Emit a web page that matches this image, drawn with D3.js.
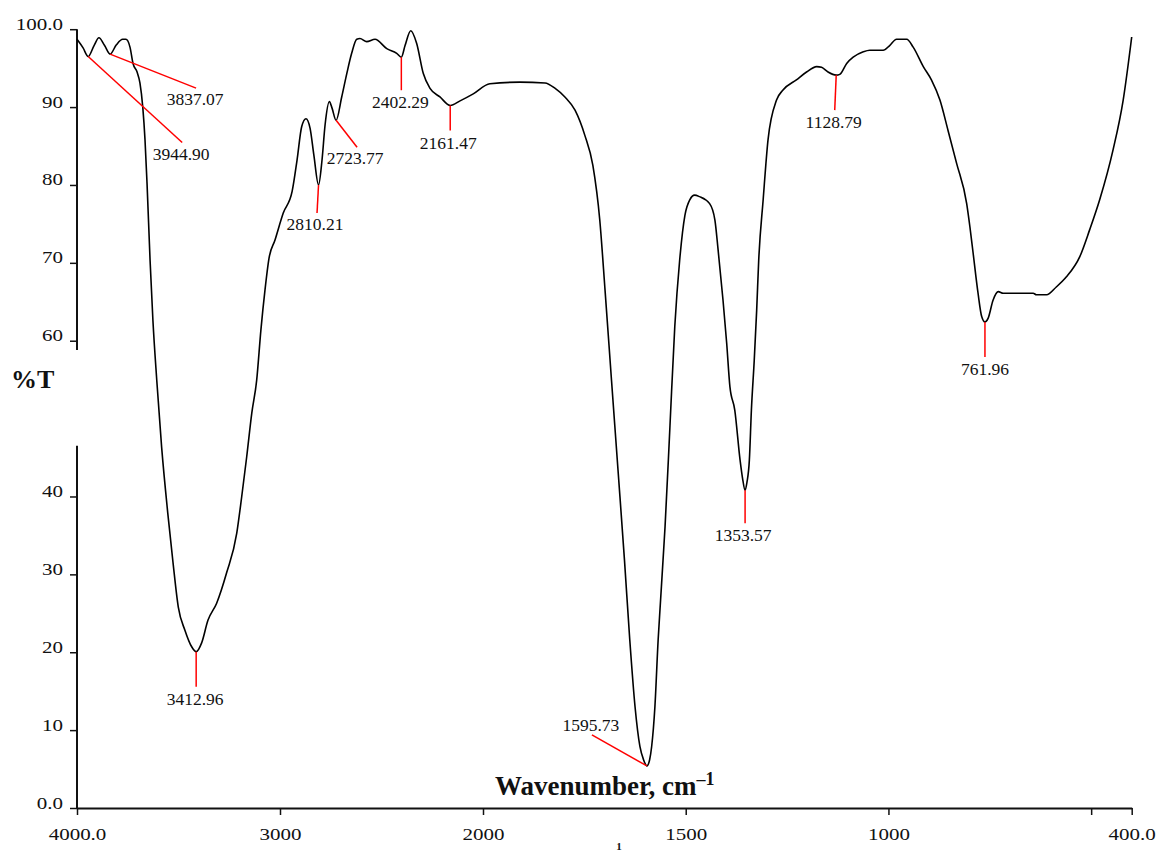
<!DOCTYPE html>
<html>
<head>
<meta charset="utf-8">
<script src="https://cdn.jsdelivr.net/npm/d3@7"></script>
<style>
  html, body { margin: 0; padding: 0; background: #fff; }
  svg text { font-family: "Liberation Serif", "Times New Roman", serif; fill: #111; }
</style>
</head>
<body>
<svg id="chart" width="1157" height="854"></svg>
<script>
// spektrum - vlnocet (cm-1) a propustnost (%T)
const wavenumber = [
  4000, 3970, 3944.9, 3916, 3892, 3864, 3837.07, 3806, 3775, 3759, 3739, 3724, 3704, 3690, 3676, 3665, 3655,
  3640, 3626, 3607, 3583, 3553, 3527, 3501, 3468, 3435, 3412.96, 3386, 3355, 3312, 3263, 3213, 3189, 3164,
  3139, 3115, 3094, 3074, 3054, 3025, 2984, 2940, 2916, 2893, 2872, 2852, 2833, 2810.21, 2793, 2778, 2757,
  2744, 2723.77, 2696, 2671, 2647, 2622, 2606, 2573, 2532, 2474, 2425, 2402.29, 2384, 2356, 2327, 2294,
  2261, 2212, 2161.47, 2113, 2048, 1983, 1909, 1847, 1822, 1798, 1773, 1749, 1729, 1712, 1699, 1683, 1667,
  1651, 1638, 1625, 1613, 1604, 1595.73, 1589, 1584, 1576, 1568, 1562, 1556, 1551, 1539, 1527, 1515,
  1502, 1490, 1478, 1466, 1441, 1428, 1420, 1408, 1399, 1391, 1379, 1366, 1360, 1353.57, 1349, 1343, 1338,
  1331, 1325, 1320, 1309, 1297, 1276, 1260, 1227, 1202, 1177, 1165, 1149, 1128.79, 1120, 1103, 1087, 1062,
  1046, 1013, 997, 980, 955, 939, 914, 894, 873, 853, 832, 807, 799, 791, 779, 770, 761.96, 754, 742, 729,
  717, 643, 635, 610, 586, 561, 528, 504, 479, 446, 421, 400
];
const transmittance = [
  98.7, 97.6, 96.5, 97.9, 98.9, 97.9, 96.8, 98.0, 98.7, 98.7, 97.7, 95.6, 94.5, 93.1, 90.0, 85.8, 80.2,
  70.3, 62.6, 54.9, 46.3, 37.9, 31.5, 25.8, 22.8, 20.7, 20.06, 21.2, 24.1, 26.3, 30.2, 35.3, 39.9, 45.1,
  50.7, 54.9, 61.4, 66.5, 70.6, 72.9, 76.4, 79.2, 83.2, 87.5, 88.5, 87.3, 83.8, 80.0, 83.2, 87.7, 90.7,
  89.9, 88.3, 91.3, 94.3, 96.9, 98.7, 98.8, 98.4, 98.7, 97.5, 96.9, 96.4, 97.9, 99.8, 98.2, 94.3,
  92.4, 91.3, 90.2, 90.8, 91.7, 93.0, 93.2, 93.1, 92.4, 91.3, 89.6, 86.4, 82.5, 75.5, 66.5, 54.9, 43.4,
  31.8, 21.6, 13.0, 7.9, 6.2, 5.4, 6.2, 7.9, 13.0, 21.6, 26.7, 31.8, 36.1, 48.9, 61.8, 70.3,
  76.1, 78.1, 78.7, 78.5, 77.6, 75.5, 71.6, 65.2, 59.7, 54.1, 51.1, 44.7, 42.4, 40.8, 41.8, 44.7, 51.1,
  57.5, 63.9, 70.3, 78.1, 85.8, 90.9, 92.2, 93.5, 94.5, 95.2, 95.1, 94.5, 94.1, 94.2, 95.6, 96.4, 97.1,
  97.3, 97.3, 97.9, 98.7, 98.7, 97.7, 95.2, 93.5, 90.9, 87.0, 82.8, 77.6, 74.6, 71.2, 66.1, 63.1, 62.4, 62.9, 65.2, 66.3,
  66.1, 66.1, 65.9, 65.9, 66.9, 68.2, 70.8, 74.2, 78.1, 84.5, 90.9, 99.0
];

// popisky piku
const peakWn = [3944.90, 3837.07, 3412.96, 2810.21, 2723.77, 2402.29, 2161.47, 1595.73, 1353.57, 1128.79, 761.96];
const peakT = [96.5, 96.8, 20.06, 80.0, 88.3, 96.4, 90.2, 5.4, 40.8, 94.1, 62.4];
const peakText = ["3944.90", "3837.07", "3412.96", "2810.21", "2723.77", "2402.29", "2161.47", "1595.73", "1353.57", "1128.79", "761.96"];

// osy
const xTicks = [4000, 3000, 2000, 1500, 1000, 500, 400];
const xTickLabels = ["4000.0", "3000", "2000", "1500", "1000", "", "400.0"];
const yTicks = [0, 10, 20, 30, 40, 60, 70, 80, 90, 100];
const yTickLabels = ["0.0", "10", "20", "30", "40", "60", "70", "80", "90", "100.0"];

// rozlozeni vodicich car (posun konce cary od piku, posun textu od konce cary)
const leaderLayout = [
  { dx: 94, dy: 86, tx: -1, ty: 18 },
  { dx: 86, dy: 34, tx: -1, ty: 17 },
  { dx: 0, dy: 35, tx: -1, ty: 18 },
  { dx: -1.5, dy: 28, tx: -2, ty: 17 },
  { dx: 21, dy: 27, tx: -2, ty: 17 },
  { dx: 0, dy: 33, tx: -1, ty: 18 },
  { dx: 0, dy: 25, tx: -2, ty: 18 },
  { dx: -55, dy: -31, tx: -1, ty: -4 },
  { dx: 0, dy: 33, tx: -2, ty: 18 },
  { dx: -1.5, dy: 35, tx: -1, ty: 18 },
  { dx: 0, dy: 35, tx: 0, ty: 18 }
];

const serif = '"Liberation Serif", "Times New Roman", serif';
const svg = d3.select("#chart");

// osa x je zalomena ve 2000 cm-1 (pod 2000 dvojnasobne meritko)
const x = d3.scaleLinear().domain([4000, 2000, 400]).range([77, 483, 1131.7]);
const y = d3.scaleLinear().domain([0, 100]).range([808, 29.2]);

const stretch = 1.2; // popisky os jsou v originale roztazene do sirky

// osa x
const xAxis = d3.axisBottom(x)
  .tickValues(xTicks)
  .tickSize(7)
  .tickSizeOuter(0)
  .tickFormat((d, i) => xTickLabels[i]);

const gx = svg.append("g").attr("transform", "translate(0,808)").call(xAxis)
  .attr("font-family", serif);
gx.select(".domain").attr("stroke", "#111").attr("stroke-width", 2);
gx.selectAll(".tick line").attr("stroke", "#111").attr("stroke-width", 1.5);
gx.selectAll(".tick text")
  .attr("y", 0).attr("dy", 0)
  .attr("transform", `translate(0,32) scale(${stretch},1)`)
  .style("font-family", serif)
  .style("font-size", "17.5px")
  .attr("fill", "#111");

// osa y - prerusena mezi 60 a 40
const yAxis = d3.axisLeft(y)
  .tickValues(yTicks)
  .tickSize(7)
  .tickSizeOuter(0)
  .tickFormat((d, i) => yTickLabels[i]);

const gy = svg.append("g").attr("transform", "translate(77,0)").call(yAxis)
  .attr("font-family", serif);
gy.select(".domain").remove();
gy.selectAll(".tick line").attr("stroke", "#111").attr("stroke-width", 1.5);
gy.selectAll(".tick text")
  .attr("x", 0).attr("dy", 0)
  .attr("transform", `translate(-14,0) scale(${stretch},1)`)
  .style("font-family", serif)
  .style("font-size", "17.5px")
  .attr("fill", "#111");

[[100, 58.8], [46.5, 0]].forEach(seg => {
  svg.append("line")
    .attr("x1", 77).attr("x2", 77)
    .attr("y1", y(seg[0])).attr("y2", y(seg[1]))
    .attr("stroke", "#111").attr("stroke-width", 2);
});

// nazvy os
svg.append("text")
  .attr("x", 11).attr("y", 387.5)
  .style("font-size", "26px").style("font-weight", "bold")
  .text("%T");

const xl = svg.append("text")
  .attr("x", 495).attr("y", 795)
  .style("font-size", "27px").style("font-weight", "bold");
xl.append("tspan").text("Wavenumber, cm");
xl.append("tspan").attr("dy", -10).style("font-size", "18px").text("\u20131");

// zbytek puvodniho popisku u spodniho okraje
svg.append("text")
  .attr("x", 619).attr("y", 850)
  .attr("text-anchor", "middle")
  .style("font-size", "11px").style("font-weight", "bold")
  .text("1");

// krivka spektra
const pts = wavenumber.map((w, i) => [w, transmittance[i]]);
const line = d3.line()
  .x(d => x(d[0]))
  .y(d => y(d[1]))
  .curve(d3.curveMonotoneX);

svg.append("path")
  .datum(pts)
  .attr("d", line)
  .attr("fill", "none")
  .attr("stroke", "#000")
  .attr("stroke-width", 1.6)
  .attr("stroke-linejoin", "round");

// vodici cary a popisky piku
peakWn.forEach((w, i) => {
  const px = x(w), py = y(peakT[i]);
  const L = leaderLayout[i];
  const ex = px + L.dx, ey = py + L.dy;
  svg.append("line")
    .attr("x1", px).attr("y1", py)
    .attr("x2", ex).attr("y2", ey)
    .attr("stroke", "#ff0000").attr("stroke-width", 1.5);
  svg.append("text")
    .attr("x", ex + L.tx).attr("y", ey + L.ty)
    .attr("text-anchor", "middle")
    .style("font-size", "17.5px")
    .text(peakText[i]);
});
</script>
</body>
</html>
